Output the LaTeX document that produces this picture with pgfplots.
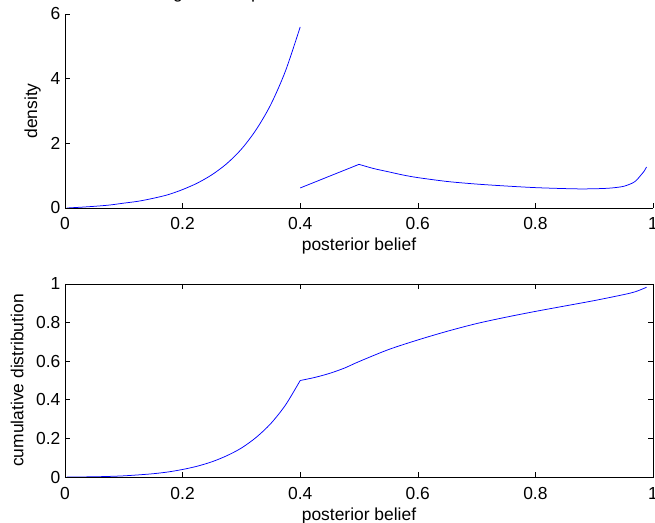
\documentclass[border=0pt]{standalone}
\usepackage{fontspec}
\setmainfont{Liberation Sans}
\usepackage{pgfplots}
\pgfplotsset{compat=1.18}
\definecolor{mblue}{RGB}{0,0,255}

\newcommand{\matfont}{\fontsize{17.5}{21}\selectfont}

\pgfplotsset{
  matlab/.style={
    scale only axis, width=588bp,
    xmin=0, xmax=1,
    tick align=inside,
    major tick length=5bp,
    every tick/.style={black, line width=0.6bp},
    axis line style={black, line width=0.75bp},
    tick label style={font=\matfont},
    label style={font=\matfont},
    xtick={0,0.2,0.4,0.6,0.8,1},
    xticklabels={0,0.2,0.4,0.6,0.8,1},
    xticklabel style={anchor=base, yshift=-22bp},
    yticklabel style={anchor=east, inner sep=0pt, xshift=-4.5bp},
    xlabel={posterior belief},
    xlabel style={at={(axis description cs:0.5,0)}, anchor=base, yshift=-43bp},
  },
  curve/.style={mblue, line width=0.75bp, no marks, smooth, tension=0.5},
}

\begin{document}
\begin{tikzpicture}
% density
\begin{axis}[matlab,
  at={(65bp,315bp)}, anchor=south west, height=194bp,
  axis x line*=bottom, axis y line*=left,
  ymin=0, ymax=6,
  ytick={0,2,4,6}, yticklabels={0,2,4,6},
  ylabel={density},
  ylabel style={at={(axis description cs:-0.0476,0.5)}, anchor=base},
]
\addplot[curve] coordinates {
  (0.003,0) (0.025,0.022) (0.05,0.052) (0.075,0.09) (0.1,0.15)
  (0.125,0.21) (0.15,0.3) (0.175,0.41) (0.2,0.57) (0.225,0.77)
  (0.25,1.03) (0.275,1.37) (0.3,1.82) (0.325,2.42) (0.35,3.2)
  (0.375,4.24) (0.4,5.6)
};
\addplot[curve] coordinates {(0.4,0.62) (0.5,1.35)};
\addplot[curve] coordinates {
  (0.5,1.35) (0.525,1.22) (0.55,1.12) (0.575,1.02)
  (0.6,0.94) (0.65,0.82) (0.7,0.74) (0.75,0.68) (0.8,0.63)
  (0.85,0.60) (0.88,0.59) (0.91,0.6) (0.93,0.62) (0.95,0.67)
  (0.966,0.78) (0.973,0.88) (0.98,1.03) (0.985,1.14) (0.989,1.27)
};
\end{axis}
% cumulative distribution
\begin{axis}[matlab,
  at={(65bp,46bp)}, anchor=south west, height=193bp,
  ymin=0, ymax=1,
  ytick={0,0.2,0.4,0.6,0.8,1}, yticklabels={0,0.2,0.4,0.6,0.8,1},
  ylabel={cumulative distribution},
  ylabel style={at={(axis description cs:-0.0709,0.5)}, anchor=base},
]
\addplot[curve] coordinates {
  (0.003,0) (0.025,0.0003) (0.05,0.0012) (0.075,0.003) (0.1,0.006)
  (0.125,0.011) (0.15,0.017) (0.175,0.026) (0.2,0.039) (0.225,0.056)
  (0.25,0.079) (0.275,0.11) (0.3,0.15) (0.325,0.205) (0.35,0.277)
  (0.375,0.373) (0.4,0.5)
};
\addplot[curve] coordinates {
  (0.4,0.5) (0.425,0.516) (0.45,0.537) (0.475,0.564)
  (0.5,0.598) (0.55,0.66) (0.6,0.71) (0.65,0.755) (0.7,0.795)
  (0.75,0.828) (0.8,0.858) (0.85,0.886) (0.9,0.914) (0.95,0.945)
  (0.97,0.96) (0.989,0.983)
};
\end{axis}
% title, mostly above the page edge as in the source figure
\node[anchor=base west, font=\matfont] at (155bp,524.5bp)
  {Figure 2: Equilibrium distribution of beliefs};
\pgfresetboundingbox
\path[use as bounding box] (0,0) rectangle (655bp,523bp);
\end{tikzpicture}
\end{document}
